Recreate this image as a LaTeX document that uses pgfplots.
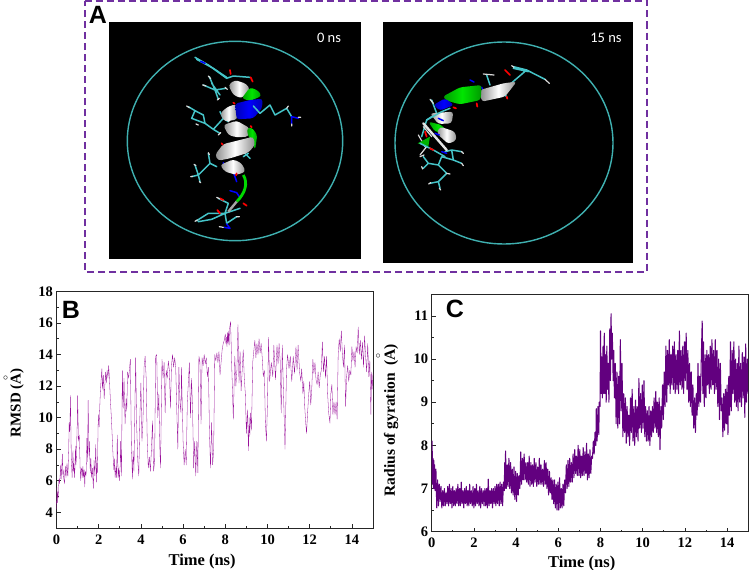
\documentclass[border=0pt]{standalone}
\usepackage{fontspec}
\usepackage{pgfplots}
\pgfplotsset{compat=1.18}
\setmainfont{Liberation Serif}
\newfontfamily\arialf{Liberation Sans}
\newfontfamily\capf{Carlito}
\definecolor{boxp}{HTML}{7030A0}
\definecolor{tealc}{HTML}{3FB0B0}
\definecolor{stickc}{HTML}{45C4C8}
\definecolor{rmsdc}{HTML}{99109A}
\definecolor{rgc}{HTML}{62007F}
\pgfplotsset{panel/.style={
  scale only axis, width=316.5pt, xmin=0, xmax=15,
  axis line style={color=black!85, line width=0.9pt},
  xtick pos=bottom, ytick pos=left,
  xtick={0,2,...,14}, minor x tick num=1,
  tick align=inside, tick style={color=black!85, line width=0.7pt},
  major tick length=4pt, minor tick length=2.2pt,
  tick label style={font=\fontsize{14.5}{14.5}\bfseries\selectfont},
  /pgf/number format/assume math mode=true,
  xticklabel style={yshift=-3pt},
  xlabel={Time (ns)},
  clip=true,
}}
\tikzset{st/.style={stickc,line width=1.5pt},hy/.style={white!85!black,line width=1.2pt},ox/.style={red,line width=1.7pt},ni/.style={blue,line width=1.5pt},rib/.style={rounded corners=3pt},
wb/.style={rib,shading angle=15,left color=white!55!black,right color=white!55!black,middle color=white},
gb/.style={rib,left color=green!60!black,right color=green!60!black,middle color=green!90!black},
bb/.style={rib,left color=blue!70!black,right color=blue!70!black,middle color=blue}}
\begin{document}
\begin{tikzpicture}[x=1pt,y=-1pt]
\useasboundingbox (0,0) rectangle (750,570);
\fill[white] (0,0) rectangle (750,570);
% frame of panel A
\draw[boxp, line width=2pt, dash pattern=on 7pt off 4pt] (84.5,1) -- (647,1) -- (647,271.5) -- (84.5,271.5) -- cycle;
% left snapshot
\fill[black] (109.3,22.3) rectangle (361,259);
\draw[tealc, line width=1.4pt] (235,141) ellipse [x radius=107.7, y radius=99.7];
\node[text=white, font=\capf\fontsize{14.5}{14.5}\selectfont, anchor=center] at (329,37.5) {0 ns};
\begin{scope}[shift={(80,0)},x=0.33333pt,y=-0.33333pt]
 \begin{scope}[line cap=round,line join=round]
 \draw[st] (345,172)--(385,195)--(440,235)--(460,228)--(510,232);
 \draw[st] (350,178)--(400,205)--(440,232);
 \draw[ni] (362,184)--(375,190);
 \draw[ox] (450,210)--(452,222) (512,232)--(518,245);
 \draw[st] (370,255)--(405,270)--(388,230) (405,270)--(415,298) (405,270)--(438,265) (395,250)--(420,285);
 \draw[hy] (368,255)--(378,258) (385,228)--(392,236) (412,300)--(418,295) (435,262)--(442,268);
 \draw[st] (325,320)--(345,332)--(335,355)--(375,370)--(400,388)--(420,400) (345,332)--(370,345)--(375,370) (400,388)--(430,355)--(445,365) (430,355)--(420,335);
 \draw[hy] (320,318)--(328,323) (348,372)--(355,375) (415,405)--(422,398) (445,365)--(450,360);
 \draw[ni] (462,395)--(472,405)--(485,400) (465,255)--(475,275)--(490,272);
 \draw[st] (540,340)--(570,315)--(585,345)--(620,325)--(635,350);
 \draw[ni] (635,350)--(655,355) (635,350)--(635,372);
 \draw[hy] (655,352)--(662,352) (635,372)--(635,378) (620,325)--(625,318);
 \draw[st] (335,530)--(355,525)--(345,495) (355,525)--(360,545) (355,525)--(390,490)--(410,500) (390,490)--(385,460) (490,455)--(510,475);
 \draw[hy] (332,530)--(338,529) (342,493)--(348,497) (358,545)--(362,548) (385,458)--(388,464);
 \draw[ni] (430,488)--(435,502) (462,522)--(470,545) (450,572)--(470,578)--(478,590);
 \draw[st] (350,662)--(385,640)--(435,640)--(445,610)--(415,595) (355,665)--(395,658)--(435,640)--(440,670)--(470,650) (435,640)--(480,625);
 \draw[ni] (440,672)--(450,685)--(432,682);
 \draw[ox] (490,610)--(500,617) (412,630)--(420,640) (430,600)--(420,595);
 \draw[hy] (345,664)--(352,660) (410,592)--(418,596) (478,650)--(470,650) (418,680)--(430,682);
 \end{scope}
 \path[wb] (445,255)--(465,240)--(500,252)--(510,270)--(485,295)--(460,285)--cycle;
 \path[gb] (485,295)--(510,262)--(535,272)--(545,288)--(510,303)--cycle;
 \path[wb] (420,342)--(440,322)--(468,312)--(472,358)--(435,365)--cycle;
 \path[bb] (465,311)--(510,300)--(548,296)--(546,325)--(520,355)--(470,358)--cycle;
 \path[wb] (430,375)--(470,362)--(510,385)--(505,410)--(470,412)--(445,405)--cycle;
 \path[gb] (500,385)--(515,382)--(532,405)--(525,450)--(518,425)--(505,410)--cycle;
 \path[wb] (405,465)--(430,432)--(460,425)--(520,410)--(525,435)--(505,458)--(450,475)--(415,482)--cycle;
 \path[wb] (420,495)--(460,478)--(485,490)--(497,515)--(470,525)--(435,515)--cycle;
 \draw[green!85!black,line width=2.8pt] (490,525) .. controls (505,550) and (495,580) .. (470,605);
 \draw[white!65!black,line width=2.4pt] (470,605)--(445,635);
 \begin{scope}[line cap=round]
 \draw[st] (520,318)--(540,340) (490,470)--(505,460);
 \draw[ox] (460,308)--(464,311) (512,378)--(515,382) (425,430)--(428,434) (470,520)--(468,526);
 \end{scope}
\end{scope}
% right snapshot
\fill[black] (382.7,22.3) rectangle (633.3,263);
\draw[tealc, line width=1.4pt] (504,143) ellipse [x radius=109, y radius=101];
\node[text=white, font=\capf\fontsize{14.5}{14.5}\selectfont, anchor=center] at (606,37.5) {15 ns};
\begin{scope}[shift={(370,0)},x=0.33333pt,y=-0.33333pt]
 \begin{scope}[line cap=round,line join=round]
 \draw[st] (430,200)--(470,210)--(525,238) (430,205)--(475,215) (470,210)--(435,240)--(395,275)--(410,290) (350,225)--(360,255);
 \draw[hy] (525,238)--(538,250) (425,197)--(432,202) (340,222)--(372,225);
 \draw[ox] (405,210)--(420,225) (410,290)--(412,296) (320,310)--(322,320) (270,275)--(280,278);
 \draw[ni] (335,262)--(340,272) (300,240)--(312,246);
 \draw[st] (285,265)--(300,285)--(330,290);
 \draw[st] (180,550)--(205,545)--(210,565) (205,545)--(230,520)--(205,495)--(175,490)--(160,505) (175,490)--(160,470) (205,495)--(215,470)--(250,480)--(275,490) (250,480)--(245,450)--(275,455) (245,450)--(225,455);
 \draw[hy] (176,552)--(182,548) (208,565)--(212,570) (230,520)--(240,522) (158,507)--(155,500) (150,470)--(162,465) (275,490)--(280,497) (275,455)--(280,460);
 \draw[st] (185,300)--(200,340)--(170,360)--(155,410);
 \draw[hy] (180,298)--(190,310) (160,380)--(185,410) (145,405)--(165,440) (150,465)--(170,440);
 \end{scope}
 \path[wb] (330,270)--(400,250)--(440,245)--(405,290)--(335,305)--cycle;
 \path[gb] (218,290)--(270,262)--(335,255)--(332,300)--(270,313)--(230,302)--cycle;
 \path[bb] (190,315)--(225,295)--(252,315)--(210,332)--cycle;
 \path[wb] (180,340)--(250,335)--(245,370)--(205,372)--cycle;
 \path[gb] (175,365)--(215,375)--(235,400)--(195,395)--cycle;
 \path[wb] (210,380)--(255,395)--(260,420)--(235,432)--(200,400)--cycle;
 \fill[green!70!black] (143,430)--(180,410)--(175,440)--cycle;
 \begin{scope}[line cap=round]
 \draw[white!90!black,line width=2.4pt] (160,370)--(230,450);
 \draw[st] (170,360)--(215,335)--(240,325) (150,430)--(190,450)--(225,470);
 \draw[ox] (165,395)--(170,410) (180,445)--(190,450) (250,322)--(258,325);
 \draw[ni] (205,355)--(220,362) (195,400)--(208,405) (215,455)--(230,460);
 \end{scope}
\end{scope}
\node[font=\arialf\fontsize{25}{25}\bfseries\selectfont] at (98,14.5) {A};

% panel B
\begin{axis}[panel, at={(56.5pt,-528pt)}, anchor=south west, height=236.5pt,
  ymin=3, ymax=18, ytick={4,6,...,18}, minor y tick num=1,
  xlabel style={font=\fontsize{16.5}{16.5}\bfseries\selectfont, at={(axis description cs:0.46,0)}, anchor=center, yshift=-34pt},
  ylabel={RMSD (A)},
  ylabel style={font=\fontsize{15}{15}\bfseries\selectfont, at={(axis description cs:0,0.53)}, anchor=center, yshift=39.5pt}]
\addplot[rmsdc, line width=0.3pt, line join=round] coordinates {
(0,4.2)(0.02,5.6)(0.04,4.6)(0.06,5.3)(0.08,4.9)(0.1,5.7)(0.12,6.1)(0.14,5.8)(0.17,6.3)(0.2,7.0)(0.22,6.1)(0.24,6.6)(0.28,7.7)(0.3,6.4)(0.32,6.7)(0.34,6.2)(0.38,5.8)(0.4,6.5)(0.42,6.9)(0.45,6.2)(0.47,6.7)(0.5,7.1)(0.52,6.4)(0.54,6.3)(0.58,8.0)(0.6,9.7)(0.62,9.1)(0.64,9.7)(0.66,11.4)(0.7,7.5)(0.74,6.2)(0.76,7.0)(0.78,7.9)(0.8,6.6)(0.82,7.1)(0.86,6.2)(0.9,8.2)(0.92,7.0)(0.94,7.4)(0.98,9.5)(1.0,11.4)(1.04,8.5)(1.08,8.9)(1.12,6.8)(1.15,6.0)(1.17,6.7)(1.2,6.8)(1.22,6.2)(1.25,6.9)(1.28,6.2)(1.31,6.7)(1.34,5.6)(1.36,6.6)(1.4,6.3)(1.42,7.3)(1.44,8.7)(1.47,7.2)(1.5,11.1)(1.54,7.6)(1.56,8.5)(1.6,6.5)(1.63,7.4)(1.66,6.2)(1.7,6.8)(1.72,6.2)(1.75,5.5)(1.78,7.3)(1.82,6.3)(1.86,8.3)(1.9,5.9)(1.92,7.1)(1.94,6.5)(1.97,9.5)(2.0,10.2)(2.02,9.4)(2.04,10.3)(2.08,11.7)(2.12,12.5)(2.15,13.1)(2.18,11.8)(2.22,12.7)(2.26,11.2)(2.3,12.3)(2.33,12.9)(2.36,12.2)(2.4,13.0)(2.44,12.5)(2.47,13.3)(2.5,12.7)(2.55,11.2)(2.6,10.0)(2.64,8.8)(2.68,7.6)(2.72,6.7)(2.74,7.4)(2.78,6.2)(2.82,6.9)(2.85,6.2)(2.88,8.9)(2.92,6.2)(2.95,6.8)(2.98,6.0)(3.02,7.0)(3.04,8.5)(3.08,6.3)(3.12,13.0)(3.16,10.6)(3.2,12.5)(3.25,9.6)(3.3,11.2)(3.33,10.4)(3.37,12.9)(3.42,12.5)(3.46,13.1)(3.5,13.7)(3.55,8.2)(3.6,6.1)(3.63,7.9)(3.67,6.6)(3.75,13.8)(3.8,9.5)(3.85,7.3)(3.9,6.3)(3.95,10)(4.0,12.2)(4.05,8.5)(4.1,9.9)(4.15,13.2)(4.2,13.9)(4.25,12.5)(4.3,8.5)(4.35,6.8)(4.4,7.5)(4.45,6.6)(4.5,8)(4.55,9.8)(4.6,6.6)(4.65,7.2)(4.7,13.9)(4.75,14)(4.8,10)(4.85,11.5)(4.9,8)(4.93,6.8)(5.0,13.7)(5.05,12.5)(5.1,13.5)(5.15,10.3)(5.2,13)(5.25,12.5)(5.3,13.6)(5.35,13)(5.4,10.6)(5.45,13.3)(5.5,14)(5.55,13.2)(5.6,13.8)(5.65,13.2)(5.7,10.5)(5.75,8.0)(5.8,13.2)(5.85,11)(5.9,10.3)(5.92,13.2)(6.0,8.5)(6.05,7.0)(6.1,8)(6.15,7)(6.2,11)(6.3,13.5)(6.35,10)(6.4,12.5)(6.45,10.5)(6.5,6.8)(6.55,8.5)(6.6,6.3)(6.65,8.5)(6.7,6.5)(6.75,13.9)(6.8,13.5)(6.85,9.6)(6.9,13.8)(6.95,13.3)(7.0,14)(7.05,13.4)(7.1,13.8)(7.15,12.6)(7.2,13.2)(7.25,9)(7.3,6.8)(7.35,9.7)(7.4,7)(7.45,8)(7.5,14)(7.55,13.6)(7.6,14.1)(7.65,13.5)(7.7,14.2)(7.75,12.7)(7.85,14.3)(7.9,14.7)(7.95,14.9)(8,15.3)(8.03,14.7)(8.05,15.1)(8.08,14.5)(8.1,15.4)(8.13,14.7)(8.15,15.5)(8.18,14.6)(8.2,15.6)(8.25,16.1)(8.3,13.5)(8.38,9.9)(8.45,13.9)(8.5,12)(8.55,13)(8.6,15.9)(8.65,12.2)(8.7,14.2)(8.75,11.7)(8.85,14.3)(8.9,12.5)(8.95,11.5)(9.0,9)(9.05,10.5)(9.1,7.9)(9.13,10)(9.16,8.8)(9.2,10.3)(9.24,9.2)(9.3,13.5)(9.35,14.2)(9.4,14.9)(9.45,13.8)(9.5,14.7)(9.55,14)(9.6,15)(9.65,14.1)(9.7,14.7)(9.75,13.8)(9.8,12.6)(9.85,13)(9.9,9.7)(9.95,8.5)(10,11)(10.05,15.1)(10.1,12.3)(10.18,13.5)(10.25,12.6)(10.3,14.6)(10.38,12.4)(10.45,14.6)(10.5,13.4)(10.55,14.7)(10.6,13.6)(10.65,10.3)(10.7,14.6)(10.75,12)(10.83,8)(10.9,13)(10.95,14)(11.02,13.1)(11.08,13.9)(11.15,12.3)(11.22,13.9)(11.28,12.8)(11.35,14.5)(11.4,13)(11.45,14.6)(11.52,12.9)(11.58,12.3)(11.62,13.1)(11.68,11.5)(11.72,12.3)(11.76,10.8)(11.8,9.9)(11.85,9.0)(11.9,10.3)(11.95,11.4)(12,12.3)(12.05,10.8)(12.1,11.9)(12.15,13.7)(12.2,12.8)(12.25,13.5)(12.3,12.4)(12.35,12.1)(12.4,12.9)(12.45,11.9)(12.5,12.7)(12.55,13.0)(12.6,14.8)(12.65,12.9)(12.7,13.9)(12.75,12.5)(12.8,13.9)(12.85,11.5)(12.9,10.3)(12.96,9.65)(13,11.5)(13.05,12.1)(13.1,10.2)(13.15,11)(13.2,10.2)(13.25,11.0)(13.3,9.9)(13.35,14.0)(13.4,15.0)(13.45,14.2)(13.5,15.5)(13.55,14.0)(13.6,13.2)(13.65,14.6)(13.7,10.7)(13.75,12.6)(13.8,13.3)(13.85,12.3)(13.9,13)(13.95,12.7)(14,14.5)(14.05,13.6)(14.1,14.2)(14.15,13.2)(14.2,14.5)(14.25,14.1)(14.3,15.75)(14.35,14)(14.4,14.9)(14.45,13.7)(14.5,14.8)(14.55,13.2)(14.6,15.2)(14.65,13.9)(14.7,12.9)(14.75,14.7)(14.8,12.6)(14.85,13.6)(14.9,10.2)(14.93,12.9)(14.96,11.8)(15,12.8)
};
\end{axis}
\node[font=\arialf\fontsize{25}{25}\bfseries\selectfont] at (71,309.5) {B};
\node[font=\fontsize{10}{10}\selectfont, rotate=90, inner sep=0pt] at (6,378) {$\circ$};

% panel C
\begin{axis}[panel, at={(431.7pt,-531.7pt)}, anchor=south west, height=237.4pt,
  ymin=6, ymax=11.5, ytick={6,...,11}, minor y tick num=1,
  xlabel style={font=\fontsize{16.5}{16.5}\bfseries\selectfont, at={(axis description cs:0.474,0)}, anchor=center, yshift=-32pt},
  ylabel={Radius of gyration\ \ (A)},
  ylabel style={font=\fontsize{15.5}{15.5}\bfseries\selectfont, at={(axis description cs:0,0.47)}, anchor=center, yshift=40.5pt}]
\addplot[rgc, line width=1.05pt, line join=round] coordinates {
(0,7.2)(0.02,8.1)(0.04,7.1)(0.06,7.7)(0.08,7.0)(0.1,7.65)(0.12,7.0)(0.14,7.55)(0.16,6.95)(0.2,7.45)(0.24,6.55)(0.28,7.2)(0.32,6.6)(0.36,7.1)(0.4,6.7)(0.44,7.05)(0.48,6.55)(0.52,6.95)(0.56,6.6)(0.6,7.0)(0.64,6.6)(0.68,6.9)(0.72,6.65)(0.76,7.05)(0.8,6.6)(0.84,7.1)(0.88,6.65)(0.92,7.0)(0.96,6.55)(1.0,7.05)(1.04,6.6)(1.08,6.95)(1.12,6.6)(1.16,7.0)(1.2,6.65)(1.24,7.1)(1.28,6.6)(1.32,7.0)(1.36,6.6)(1.4,7.15)(1.44,6.65)(1.48,6.95)(1.52,6.55)(1.56,7.0)(1.6,6.65)(1.64,7.05)(1.68,6.6)(1.72,6.95)(1.76,6.6)(1.8,7.1)(1.84,6.65)(1.88,6.95)(1.92,6.6)(1.96,7.05)(2.0,6.55)(2.04,7.0)(2.08,6.6)(2.12,7.1)(2.16,6.65)(2.2,6.95)(2.24,6.6)(2.28,7.05)(2.32,6.55)(2.36,7.0)(2.4,6.65)(2.44,6.95)(2.48,6.6)(2.52,7.0)(2.56,6.6)(2.6,7.0)(2.64,6.55)(2.68,7.22)(2.72,6.6)(2.76,6.95)(2.8,6.65)(2.84,7.0)(2.88,6.55)(2.92,7.0)(2.96,6.65)(3.0,7.05)(3.04,6.6)(3.08,7.1)(3.12,6.65)(3.16,7.1)(3.2,6.6)(3.24,7.15)(3.28,6.65)(3.32,7.1)(3.36,6.6)(3.4,7.15)(3.44,6.95)(3.46,7.6)(3.48,7.0)(3.5,7.87)(3.54,7.0)(3.58,7.55)(3.62,7.05)(3.66,7.7)(3.7,7.0)(3.74,7.6)(3.78,6.9)(3.82,7.45)(3.86,6.85)(3.9,7.5)(3.94,6.75)(3.98,7.4)(4.02,6.7)(4.06,7.35)(4.1,6.85)(4.14,7.3)(4.18,7.0)(4.22,7.85)(4.26,7.1)(4.3,7.7)(4.34,7.2)(4.38,7.8)(4.42,7.2)(4.46,7.6)(4.5,7.15)(4.54,7.6)(4.58,7.1)(4.62,7.75)(4.66,7.05)(4.7,7.6)(4.74,7.1)(4.78,7.55)(4.82,7.05)(4.86,7.7)(4.9,7.15)(4.94,7.6)(4.98,7.05)(5.02,7.5)(5.06,7.1)(5.1,7.7)(5.14,7.1)(5.18,7.55)(5.22,7.1)(5.26,7.45)(5.3,7.05)(5.34,7.65)(5.38,7.1)(5.42,7.6)(5.46,7.0)(5.5,7.45)(5.54,6.85)(5.58,7.4)(5.62,6.9)(5.66,7.25)(5.7,6.75)(5.74,7.2)(5.78,6.65)(5.82,7.2)(5.86,6.55)(5.9,7.1)(5.94,6.5)(5.98,7.15)(6.02,6.5)(6.06,7.25)(6.1,6.55)(6.14,7.0)(6.18,6.55)(6.22,7.1)(6.26,6.6)(6.3,7.2)(6.34,6.9)(6.38,7.55)(6.42,7.0)(6.46,7.65)(6.5,7.05)(6.54,7.7)(6.58,7.15)(6.62,7.6)(6.66,7.15)(6.7,7.8)(6.74,7.25)(6.78,7.9)(6.82,7.35)(6.86,7.75)(6.9,7.3)(6.94,8.0)(6.98,7.3)(7.02,7.9)(7.06,7.25)(7.1,7.75)(7.14,7.3)(7.18,7.95)(7.22,7.3)(7.26,7.85)(7.3,7.35)(7.34,8.05)(7.38,7.2)(7.42,7.8)(7.46,7.25)(7.5,7.9)(7.54,7.35)(7.58,7.75)(7.62,7.7)(7.66,8.1)(7.7,7.8)(7.74,8.3)(7.78,8.0)(7.8,8.85)(7.84,8.1)(7.88,8.9)(7.92,8.25)(7.94,9.0)(7.98,8.9)(8.0,10.65)(8.03,9.2)(8.06,10.05)(8.09,9.1)(8.12,10.3)(8.15,9.2)(8.18,10.6)(8.21,9.2)(8.24,10.1)(8.27,9.0)(8.3,10.3)(8.33,9.3)(8.36,9.9)(8.4,9.0)(8.44,10.7)(8.47,9.5)(8.5,11.05)(8.53,10.0)(8.56,10.6)(8.6,9.5)(8.63,10.2)(8.66,9.1)(8.7,9.9)(8.74,8.5)(8.78,9.7)(8.82,8.4)(8.86,9.6)(8.9,8.5)(8.94,10.45)(8.98,8.8)(9.02,9.9)(9.06,8.2)(9.1,9.2)(9.14,8.3)(9.18,9.1)(9.22,8.05)(9.26,8.9)(9.3,8.2)(9.34,8.7)(9.38,8.0)(9.42,9.1)(9.46,8.3)(9.5,9.3)(9.54,8.1)(9.58,8.9)(9.62,8.0)(9.66,9.05)(9.7,8.2)(9.74,8.9)(9.78,8.1)(9.82,9.55)(9.86,8.4)(9.9,9.2)(9.94,8.3)(9.98,9.4)(10.02,8.4)(10.06,9.5)(10.1,8.2)(10.14,8.9)(10.18,8.1)(10.22,8.8)(10.26,8.1)(10.3,8.9)(10.34,8.0)(10.38,8.8)(10.42,8.2)(10.46,8.9)(10.5,8.3)(10.54,9.1)(10.58,8.4)(10.62,9.25)(10.66,8.3)(10.7,9.0)(10.74,8.2)(10.78,9.1)(10.82,7.9)(10.86,8.9)(10.9,8.4)(10.94,9.4)(10.98,8.6)(11.02,9.7)(11.06,8.9)(11.1,10.3)(11.14,9.0)(11.18,10.2)(11.22,9.4)(11.26,10.45)(11.3,9.2)(11.34,10.1)(11.38,9.4)(11.42,10.3)(11.46,9.3)(11.5,10.4)(11.54,9.2)(11.58,10.1)(11.62,9.3)(11.66,10.2)(11.7,9.2)(11.74,10.65)(11.78,9.4)(11.82,10.2)(11.86,9.3)(11.9,10.3)(11.94,9.2)(11.98,10.4)(12.02,9.5)(12.06,10.6)(12.1,9.3)(12.14,10.2)(12.18,9.0)(12.22,9.9)(12.26,8.9)(12.3,9.7)(12.34,8.7)(12.38,9.4)(12.42,8.4)(12.46,9.1)(12.5,8.3)(12.54,9.2)(12.58,8.7)(12.62,9.9)(12.66,8.9)(12.7,9.6)(12.74,9.0)(12.78,10.1)(12.82,10.88)(12.85,9.2)(12.88,10.4)(12.92,8.9)(12.96,10.1)(13,9.1)(13.04,10.2)(13.08,9.4)(13.12,10.1)(13.16,9.2)(13.2,10.3)(13.24,9.3)(13.28,10.45)(13.32,9.4)(13.36,10.2)(13.4,9.2)(13.44,10.45)(13.48,9.3)(13.52,10.2)(13.56,8.9)(13.6,10.0)(13.64,8.6)(13.68,9.9)(13.72,8.8)(13.76,9.1)(13.8,8.2)(13.84,9.2)(13.88,8.35)(13.92,9.3)(13.96,8.5)(14,9.4)(14.04,8.25)(14.08,9.6)(14.12,8.7)(14.16,10.4)(14.2,8.8)(14.24,10.2)(14.28,9.2)(14.32,10.4)(14.36,9.0)(14.4,10.0)(14.44,8.9)(14.48,9.9)(14.52,8.8)(14.56,10.3)(14.6,9.0)(14.64,9.9)(14.68,8.9)(14.72,10.15)(14.76,9.1)(14.8,10.05)(14.84,8.65)(14.88,10.35)(14.92,9.0)(14.96,10.0)(15,9.2)
};
\end{axis}
\node[font=\arialf\fontsize{25}{25}\bfseries\selectfont] at (455,308.5) {C};
\node[font=\fontsize{10}{10}\selectfont, rotate=90, inner sep=0pt] at (378.5,356) {$\circ$};
\end{tikzpicture}
\end{document}
